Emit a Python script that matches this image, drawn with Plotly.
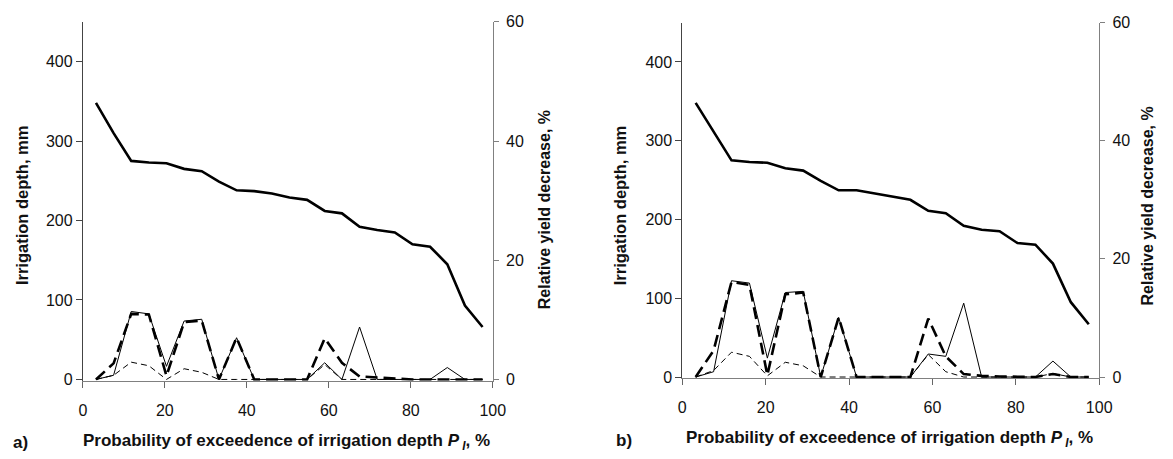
import plotly.graph_objects as go

W, H = 1173, 459

# ---------------- data ----------------
# probability of exceedence of irrigation depth, %
p_exceed = [3.2, 7.5, 11.8, 16.1, 20.4, 24.7, 29.0, 33.2, 37.5, 41.8, 46.1, 50.4,
            54.7, 59.0, 63.2, 67.5, 71.8, 76.1, 80.4, 84.7, 88.9, 93.2, 97.5]

# panel a
irrigation_a = [348, 310, 275, 273, 272, 265, 262, 249, 238, 237, 234, 229,
                226, 212, 209, 192, 188, 185, 170, 167, 145, 93, 66]
yield_thin_a = [0, 0.7, 11.4, 11.0, 2.2, 9.8, 10.1, 0, 7.0, 0, 0, 0,
                0, 2.8, 0, 8.8, 0, 0, 0, 0, 2.0, 0, 0]
yield_thickdash_a = [0, 2.7, 11.0, 10.9, 0.6, 9.6, 9.9, 0, 7.0, 0, 0, 0,
                     0, 6.9, 2.8, 0.5, 0.3, 0.1, 0, 0, 0, 0, 0]
yield_shortdash_a = [0, 0.7, 2.9, 2.3, 0, 1.8, 1.2, 0, 0, 0, 0, 0,
                     0, 2.5, 0, 0, 0, 0, 0, 0, 0, 0, 0]

# panel b
irrigation_b = [348, 312, 275, 273, 272, 265, 262, 249, 237, 237, 233, 229,
                225, 211, 208, 192, 187, 185, 170, 168, 144, 95, 67]
yield_thin_b = [0, 0.9, 16.3, 15.9, 3.2, 14.3, 14.5, 0, 10.1, 0, 0, 0,
                0, 3.9, 3.5, 12.5, 0, 0, 0, 0, 2.7, 0, 0]
yield_thickdash_b = [0, 4.5, 16.1, 15.6, 0.3, 14.0, 14.3, 0, 10.1, 0, 0, 0,
                     0, 9.9, 3.5, 0.5, 0.2, 0.1, 0, 0, 0.5, 0, 0]
yield_shortdash_b = [0, 1.1, 4.2, 3.5, 0.2, 2.5, 1.9, 0, 0, 0, 0, 0,
                     0, 3.8, 0.9, 0, 0, 0, 0, 0, 0.6, 0, 0]

x_ticks = [0, 20, 40, 60, 80, 100]
left_ticks = [0, 100, 200, 300, 400]
right_ticks = [0, 20, 40, 60]
LEFT_MAX, RIGHT_MAX = 450, 60
LEFT_MIN = -1.5
RIGHT_MIN = LEFT_MIN * RIGHT_MAX / LEFT_MAX

FONT = "Liberation Sans, Arial, sans-serif"

fig = go.Figure()

def add_panel(n, irr, thin, thick, short):
    xa = "x" if n == 1 else "x2"
    yl = "y" if n == 1 else "y4"
    yr = "y2" if n == 1 else "y5"
    fig.add_trace(go.Scatter(x=p_exceed, y=thin, xaxis=xa, yaxis=yr, mode="lines",
                             line=dict(color="black", width=1), showlegend=False))
    fig.add_trace(go.Scatter(x=p_exceed, y=short, xaxis=xa, yaxis=yr, mode="lines",
                             line=dict(color="black", width=1, dash="6px,4px"), showlegend=False))
    fig.add_trace(go.Scatter(x=p_exceed, y=thick, xaxis=xa, yaxis=yr, mode="lines",
                             line=dict(color="black", width=2.6, dash="12px,6px"), showlegend=False))
    fig.add_trace(go.Scatter(x=p_exceed, y=irr, xaxis=xa, yaxis=yl, mode="lines",
                             line=dict(color="black", width=2.6), showlegend=False))

add_panel(1, irrigation_a, yield_thin_a, yield_thickdash_a, yield_shortdash_a)
add_panel(2, irrigation_b, yield_thin_b, yield_thickdash_b, yield_shortdash_b)

def dom_y(px0, pxtop):
    scale = (px0 - pxtop) / LEFT_MAX
    bottom = px0 + (-LEFT_MIN) * scale
    return [1 - bottom / H, 1 - pxtop / H]

tickfont = dict(family=FONT, size=16, color="#111")
xcommon = dict(range=[0, 100], tickvals=x_ticks, ticks="outside", ticklen=6, tickwidth=1,
               tickcolor="#666", showline=True, linecolor="#808080", linewidth=1,
               showgrid=False, zeroline=False, tickfont=tickfont, layer="below traces",
               ticklabelstandoff=9)
ylcommon = dict(range=[LEFT_MIN, LEFT_MAX], tickvals=left_ticks, ticks="outside", ticklen=6,
                tickcolor="#444", showline=True, linecolor="#444", linewidth=1,
                showgrid=False, zeroline=False, tickfont=tickfont, layer="below traces")
yrcommon = dict(range=[RIGHT_MIN, RIGHT_MAX], tickvals=right_ticks, ticks="outside", ticklen=5,
                tickcolor="#808080", showline=True, linecolor="#808080", linewidth=1,
                showgrid=False, zeroline=False, tickfont=tickfont, side="right",
                layer="below traces", ticklabelstandoff=4)
yrin = dict(range=[RIGHT_MIN, RIGHT_MAX], tickvals=right_ticks, ticks="inside", ticklen=5,
            tickcolor="#808080", showline=False, showticklabels=False,
            showgrid=False, zeroline=False, side="right", layer="below traces")

dA = dom_y(384, 14.3)
dB = dom_y(381.5, 15)

fig.update_layout(
    width=W, height=H, margin=dict(l=0, r=0, t=0, b=0),
    paper_bgcolor="white", plot_bgcolor="white", showlegend=False,
    xaxis=dict(domain=[80 / W, 496 / W], anchor="y", **xcommon),
    yaxis=dict(domain=dA, anchor="x", **ylcommon),
    yaxis2=dict(overlaying="y", anchor="x", **yrcommon),
    yaxis3=dict(overlaying="y", anchor="x", **yrin),
    xaxis2=dict(domain=[688.3 / W, 1111.3 / W], anchor="y4", **xcommon),
    yaxis4=dict(domain=dB, anchor="x2", **ylcommon),
    yaxis5=dict(overlaying="y4", anchor="x2", **yrcommon),
    yaxis6=dict(overlaying="y4", anchor="x2", **yrin),
)

xtitle = "<b>Probability of exceedence of irrigation depth <i>P</i><sub><i> I</i></sub>, %</b>"
ann = [
    (287, 449, xtitle, 0, 17), (17, 449, "<b>a)</b>", 0, 17),
    (19, 204, "<b>Irrigation depth, mm</b>", -90, 16.5),
    (548, 209, "<b>Relative yield decrease, %</b>", -90, 16),
    (899, 446, xtitle, 0, 17), (629, 447.6, "<b>b)</b>", 0, 17),
    (625, 204, "<b>Irrigation depth, mm</b>", -90, 16.5),
    (1160, 205, "<b>Relative yield decrease, %</b>", -90, 16),
]
for x, y, t, ang, fs in ann:
    fig.add_annotation(x=x / W, y=1 - y / H, xref="paper", yref="paper", text=t,
                       showarrow=False, textangle=ang, xanchor="center", yanchor="middle",
                       font=dict(family=FONT, size=fs, color="#111"))

fig.write_html("out.html")
